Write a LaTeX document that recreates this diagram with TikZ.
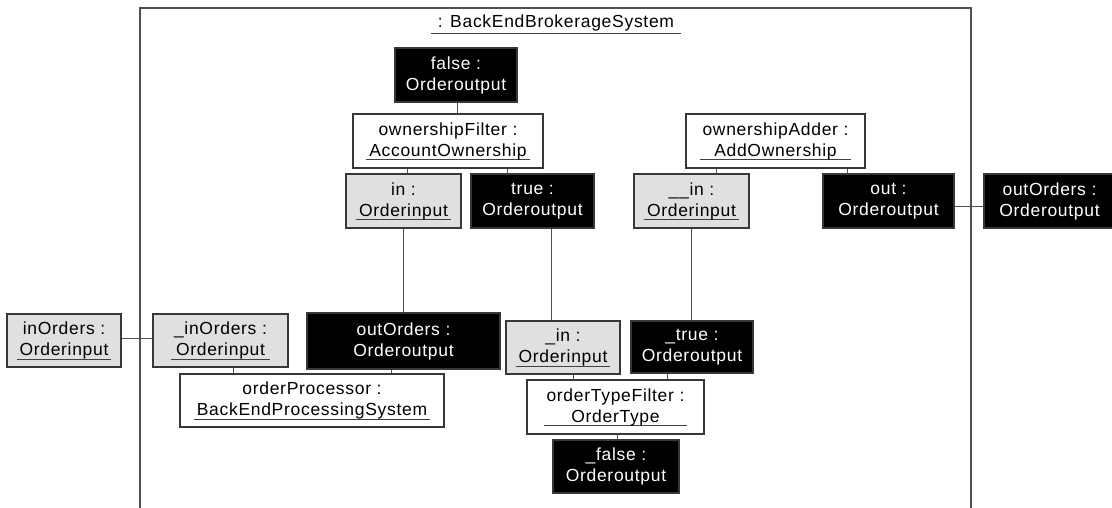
\documentclass[tikz,border=0pt]{standalone}
\usepackage{fontspec}
\setmainfont{Liberation Sans}[LetterSpace=4]
\definecolor{bd}{HTML}{383838}
\definecolor{gfill}{HTML}{E0E0E0}
\definecolor{conn}{HTML}{505050}
\definecolor{ulc}{HTML}{404040}
\newsavebox\bxa \newsavebox\bxb \newlength\ulw
\newcommand\uml[2]{\global\setbox\bxa=\hbox{#1}\global\setbox\bxb=\hbox{#2}%
 \ifdim\wd\bxa>\wd\bxb \global\ulw=\wd\bxa\else\global\ulw=\wd\bxb\fi
 \global\advance\ulw by 6pt%
 #1\\\makebox[\wd\bxb]{\makebox[0pt]{\raisebox{-4pt}[0pt][0pt]{\color{ulc}\rule{\ulw}{1pt}}}}\hspace{-\wd\bxb}#2}
\newcommand\ulone[1]{\sbox\bxa{#1}\setlength\ulw{\wd\bxa}\addtolength\ulw{14pt}%
 \makebox[\wd\bxa]{\makebox[0pt]{\raisebox{-6pt}[0pt][0pt]{\color{ulc}\rule{\ulw}{1pt}}}}\hspace{-\wd\bxa}\usebox\bxa}
\begin{document}
\begin{tikzpicture}[x=1pt,y=-1pt,
  box/.style={draw=bd,line width=1.2pt,inner sep=0pt,align=center,
    font=\fontsize{17.5}{21}\selectfont},
  wbox/.style={box,fill=white},
  gbox/.style={box,fill=gfill},
  bbox/.style={box,fill=black,text=white},
  conn/.style={draw=conn,line width=1pt},
  frame/.style={draw=conn,line width=1.2pt}]
\useasboundingbox (0,0) rectangle (1112,508);
\draw[frame] (140,508) -- (140,8) -- (971,8) -- (971,508);
\node[font=\fontsize{17.5}{21}\selectfont] (title) at (556,23) {\ulone{: BackEndBrokerageSystem}};
% top row
\node[bbox,minimum width=122pt,minimum height=54pt] (false) at (456,75) {false :\\Orderoutput};
\node[wbox,minimum width=190pt,minimum height=54pt] (filt) at (448,141) {\uml{ownershipFilter :}{AccountOwnership}};
\node[gbox,minimum width=115pt,minimum height=54pt] (in) at (403.5,201) {\uml{in :}{Orderinput}};
\node[bbox,minimum width=123pt,minimum height=54pt] (true) at (532.5,201) {true :\\Orderoutput};
\node[wbox,minimum width=179pt,minimum height=54pt] (adder) at (775.5,141) {\uml{ownershipAdder :}{AddOwnership}};
\node[gbox,minimum width=115pt,minimum height=54pt] (iin) at (691.5,201) {\uml{\_\_in :}{Orderinput}};
\node[bbox,minimum width=131pt,minimum height=54pt] (out) at (888.5,201) {out :\\Orderoutput};
\node[bbox,minimum width=131pt,minimum height=54pt] (outR) at (1049.5,201) {outOrders :\\Orderoutput};
% lower part
\node[gbox,minimum width=114pt,minimum height=53pt] (inO) at (64,340.5) {\uml{inOrders :}{Orderinput}};
\node[gbox,minimum width=135pt,minimum height=53pt] (inO2) at (220.5,340.5) {\uml{\_inOrders :}{Orderinput}};
\node[bbox,minimum width=193pt,minimum height=56pt] (outM) at (403.5,341) {outOrders :\\Orderoutput};
\node[wbox,minimum width=264pt,minimum height=53pt] (proc) at (312,400.5) {\uml{orderProcessor :}{BackEndProcessingSystem}};
\node[gbox,minimum width=114pt,minimum height=53pt] (uin) at (563,347.5) {\uml{\_in :}{Orderinput}};
\node[bbox,minimum width=122pt,minimum height=52pt] (utrue) at (692,347) {\_true :\\Orderoutput};
\node[wbox,minimum width=177pt,minimum height=54pt] (otf) at (615.5,407) {\uml{orderTypeFilter :}{OrderType}};
\node[bbox,minimum width=126pt,minimum height=53pt] (ufalse) at (616,466.5) {\_false :\\Orderoutput};
% connectors
\draw[conn] ([xshift=1pt]false.south) -- ([xshift=1pt]false.south |- filt.north);
\draw[conn] ([xshift=-41pt]filt.south) -- ([xshift=-41pt]filt.south |- in.north);
\draw[conn] ([xshift=59pt]filt.south) -- ([xshift=59pt]filt.south |- true.north);
\draw[conn] (in.south) -- (in.south |- outM.north);
\draw[conn] ([xshift=18.5pt]true.south) -- ([xshift=18.5pt]true.south |- uin.north);
\draw[conn] ([xshift=-59.5pt]adder.south) -- ([xshift=-59.5pt]adder.south |- iin.north);
\draw[conn] ([xshift=71.5pt]adder.south) -- ([xshift=71.5pt]adder.south |- out.north);
\draw[conn] (iin.south) -- (iin.south |- utrue.north);
\draw[conn] ([yshift=-6pt]out.east) -- ([yshift=-6pt]out.east -| outR.west);
\draw[conn] ([yshift=2.5pt]inO.east) -- ([yshift=2.5pt]inO.east -| inO2.west);
\draw[conn] ([xshift=12.5pt]inO2.south) -- ([xshift=12.5pt]inO2.south |- proc.north);
\draw[conn] ([xshift=-12.5pt]outM.south) -- ([xshift=-12.5pt]outM.south |- proc.north);
\draw[conn] ([xshift=10pt]uin.south) -- ([xshift=10pt]uin.south |- otf.north);
\draw[conn] ([xshift=-25pt]utrue.south) -- ([xshift=-25pt]utrue.south |- otf.north);
\draw[conn] ([xshift=1.5pt]otf.south) -- ([xshift=1.5pt]otf.south |- ufalse.north);
\end{tikzpicture}
\end{document}
